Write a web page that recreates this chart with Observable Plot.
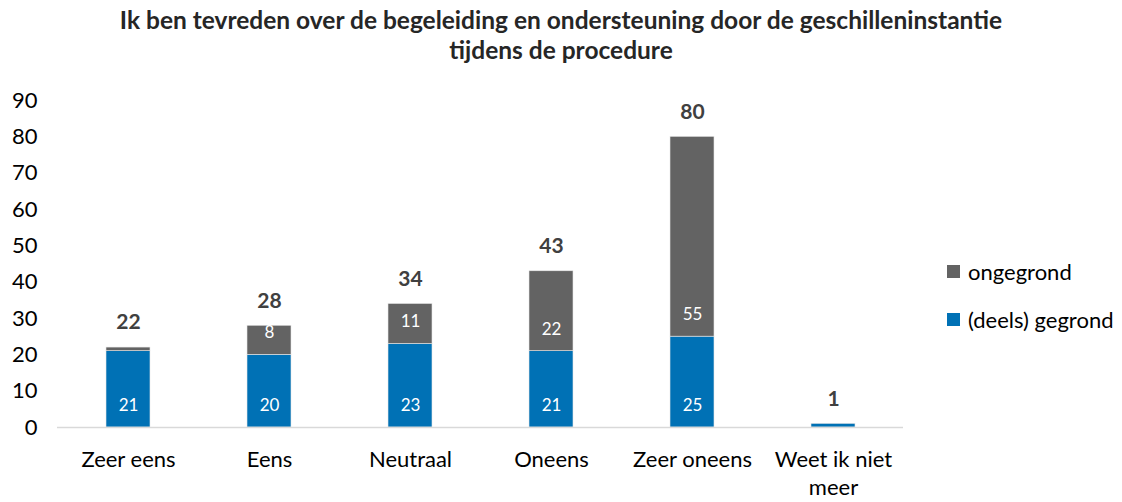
<!DOCTYPE html>
<html>
<head>
<meta charset="utf-8">
<script src="https://cdn.jsdelivr.net/npm/d3@7"></script>
<script src="https://cdn.jsdelivr.net/npm/@observablehq/plot@0.6"></script>
<style>
  html, body { margin: 0; padding: 0; background: #fff; }
  body { width: 1122px; height: 502px; overflow: hidden; font-family: Lato, "Open Sans", sans-serif; }
  #title { height: 72px; text-align: center; font-weight: bold; font-size: 24.5px; line-height: 30px; color: #262626; padding-top: 5px; box-sizing: border-box; white-space: nowrap; }
  #wrap { position: relative; width: 1122px; height: 430px; }
  .legend { position: absolute; left: 947px; font-size: 22px; color: #000; display: flex; align-items: center; }
  .legend span.sw { display: inline-block; width: 13px; height: 13px; margin-right: 8px; }
</style>
</head>
<body>
<div id="title">Ik ben tevreden over de begeleiding en ondersteuning door de geschilleninstantie<br>tijdens de procedure</div>
<div id="wrap"></div>
<script>
const categories = ["Zeer eens", "Eens", "Neutraal", "Oneens", "Zeer oneens", "Weet ik niet meer"];
const seriesNames = ["(deels) gegrond", "ongegrond"];
const gegrond = [21, 20, 23, 21, 25, 1];
const ongegrond = [1, 8, 11, 22, 55, 0];
const totals = [22, 28, 34, 43, 80, 1];
const yTicks = [0, 10, 20, 30, 40, 50, 60, 70, 80, 90];
const colors = ["#0071B5", "#636363"];

const rows = [];
categories.forEach((c, i) => {
  rows.push({cat: c, series: seriesNames[0], value: gegrond[i]});
  rows.push({cat: c, series: seriesNames[1], value: ongegrond[i]});
});
const totalRows = categories.map((c, i) => ({cat: c, total: totals[i]}));

const chart = Plot.plot({
  width: 1122,
  height: 430,
  marginTop: 28,
  marginBottom: 75,
  marginLeft: 57,
  marginRight: 219,
  style: {fontFamily: "Lato, 'Open Sans', sans-serif", fontSize: "22px", color: "#000", background: "transparent"},
  x: {domain: categories, paddingInner: 0.688, paddingOuter: 0.344, label: null},
  y: {domain: [0, 90], label: null},
  color: {domain: seriesNames, range: colors},
  marks: [
    Plot.axisY({ticks: yTicks, tickSize: 0, tickPadding: 20, fontSize: 22, fill: "#000", label: null}),
    Plot.axisX({tickSize: 0, tickPadding: 20, fontSize: 22, fill: "#000", lineHeight: 1.25, label: null,
      tickFormat: d => d === "Weet ik niet meer" ? "Weet ik niet\nmeer" : d}),
    Plot.barY(rows, {x: "cat", y: "value", fill: "series", stroke: "#e8e8e8", strokeWidth: 0.6}),
    Plot.ruleY([0], {stroke: "#d9d9d9", strokeWidth: 1.5}),
    Plot.text(rows, Plot.stackY1({x: "cat", y: "value", z: "series",
      text: d => d.value >= 5 ? String(d.value) : "", fill: "white", fontSize: 17, dy: -22})),
    Plot.text(totalRows, {x: "cat", y: "total", text: d => String(d.total), fontWeight: "bold", fontSize: 21, fill: "#404040", dy: -25})
  ]
});
const wrap = document.getElementById("wrap");
wrap.appendChild(chart);

const legendItems = [{name: "ongegrond", color: colors[1], top: 186}, {name: "(deels) gegrond", color: colors[0], top: 234}];
legendItems.forEach(it => {
  const d = document.createElement("div");
  d.className = "legend";
  d.style.top = it.top + "px";
  d.innerHTML = `<span class="sw" style="background:${it.color}"></span><span>${it.name}</span>`;
  wrap.appendChild(d);
});
</script>
</body>
</html>
